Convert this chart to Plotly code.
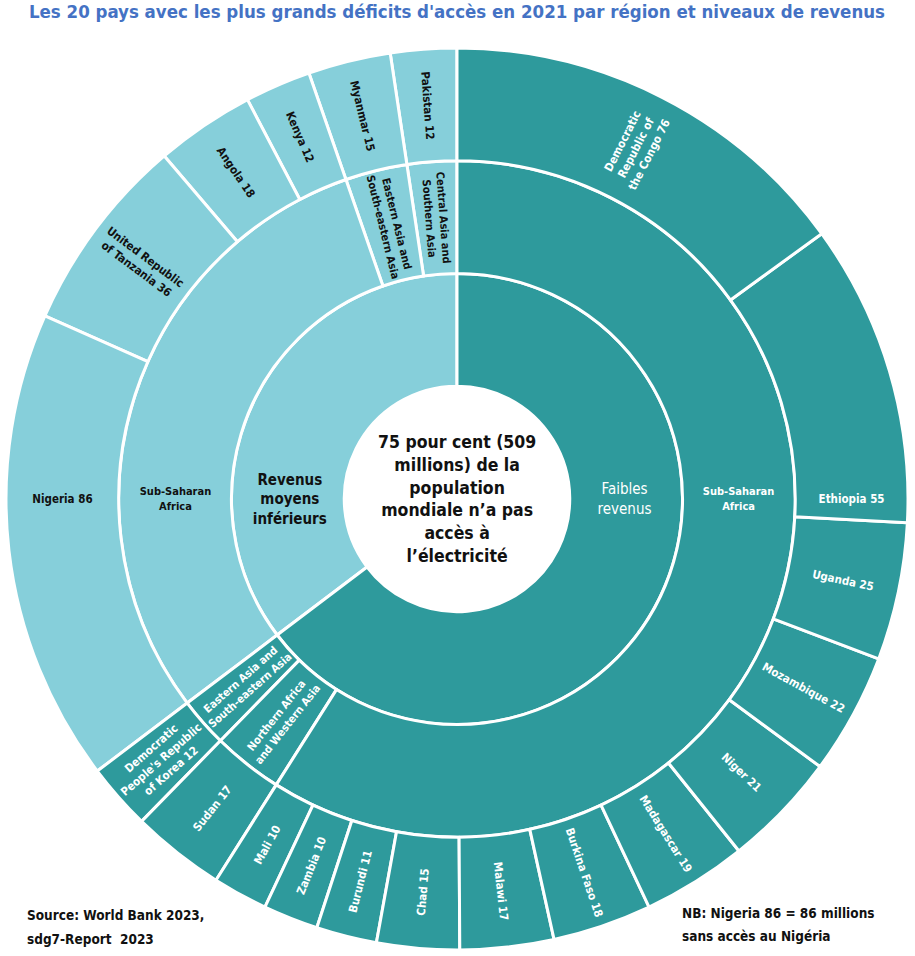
import plotly.graph_objects as go

# Order is listed counterclockwise from 12 o'clock (Plotly sunburst direction)
income_groups = ["Revenus moyens inférieurs", "Faibles revenus"]
income_labels = ["<b>Revenus<br>moyens<br>inférieurs</b>", "Faibles<br>revenus"]

lmi_regions = ["Central Asia and Southern Asia", "Eastern Asia and South-eastern Asia", "Sub-Saharan Africa"]
lmi_region_labels = ["Central Asia and<br>Southern Asia", "Eastern Asia and<br>South-eastern Asia", "Sub-Saharan<br>Africa"]
lmi_country_region = ["Central Asia and Southern Asia", "Eastern Asia and South-eastern Asia",
                      "Sub-Saharan Africa", "Sub-Saharan Africa", "Sub-Saharan Africa", "Sub-Saharan Africa"]
lmi_countries = ["Pakistan", "Myanmar", "Kenya", "Angola", "United Republic of Tanzania", "Nigeria"]
lmi_country_labels = ["Pakistan 12", "Myanmar 15", "Kenya 12", "Angola 18",
                      "United Republic<br>of Tanzania 36", "Nigeria 86"]
lmi_values = [12, 15, 12, 18, 36, 86]

low_regions = ["Eastern Asia and South-eastern Asia", "Northern Africa and Western Asia", "Sub-Saharan Africa"]
low_region_labels = ["Eastern Asia and<br>South-eastern Asia", "Northern Africa<br>and Western Asia", "Sub-Saharan<br>Africa"]
low_country_region = ["Eastern Asia and South-eastern Asia", "Northern Africa and Western Asia"] + ["Sub-Saharan Africa"] * 12
low_countries = ["Democratic People's Republic of Korea", "Sudan", "Mali", "Zambia", "Burundi", "Chad",
                 "Malawi", "Burkina Faso", "Madagascar", "Niger", "Mozambique", "Uganda", "Ethiopia",
                 "Democratic Republic of the Congo"]
low_country_labels = ["Democratic<br>People's Republic<br>of Korea 12", "Sudan 17", "Mali 10", "Zambia 10",
                      "Burundi 11", "Chad 15", "Malawi 17", "Burkina Faso 18", "Madagascar 19", "Niger 21",
                      "Mozambique 22", "Uganda 25", "Ethiopia 55", "Democratic<br>Republic of<br>the Congo 76"]
low_values = [12, 17, 10, 10, 11, 15, 17, 18, 19, 21, 22, 25, 55, 76]

group_colors = {"Faibles revenus": "#2e9a9c", "Revenus moyens inférieurs": "#86cfda"}
group_text = {"Faibles revenus": "#ffffff", "Revenus moyens inférieurs": "#111111"}
center_text = ("75 pour cent (509<br>millions) de la<br>population<br>"
               "mondiale n’a pas<br>accès à<br>l’électricité")

ids, labels, parents, values, colors, texts, tcolors, tsizes = [], [], [], [], [], [], [], []
total = sum(lmi_values) + sum(low_values)
ids.append("root"); labels.append("root"); parents.append(""); values.append(total)
colors.append("#ffffff"); texts.append(""); tcolors.append("#000000"); tsizes.append(10)

spec = [
    (lmi_regions, lmi_region_labels, lmi_country_region, lmi_countries, lmi_country_labels, lmi_values),
    (low_regions, low_region_labels, low_country_region, low_countries, low_country_labels, low_values),
]
for grp, glabel, (regs, reglabs, creg, ctry, clabs, vals) in zip(income_groups, income_labels, spec):
    ids.append(grp); labels.append(grp); parents.append("root"); values.append(sum(vals))
    colors.append(group_colors[grp]); texts.append(glabel); tcolors.append(group_text[grp]); tsizes.append(15)
    for r, rl in zip(regs, reglabs):
        rid = grp + "/" + r
        ids.append(rid); labels.append(r); parents.append(grp)
        values.append(sum(v for rr, v in zip(creg, vals) if rr == r))
        colors.append(group_colors[grp]); texts.append(f"<b>{rl}</b>"); tcolors.append(group_text[grp]); tsizes.append(11)
        for rr, c, cl, v in zip(creg, ctry, clabs, vals):
            if rr == r:
                ids.append(rid + "/" + c); labels.append(c); parents.append(rid); values.append(v)
                colors.append(group_colors[grp]); texts.append(f"<b>{cl}</b>"); tcolors.append(group_text[grp]); tsizes.append(11.5)

fig = go.Figure(go.Sunburst(
    ids=ids, labels=labels, parents=parents, values=values,
    branchvalues="total", sort=False, rotation=90,
    text=texts, texttemplate="%{text}",
    marker=dict(colors=colors, line=dict(color="#ffffff", width=3)),
    leaf=dict(opacity=1),
    insidetextorientation="radial",
    insidetextfont=dict(color=tcolors, size=tsizes, family="DejaVu Sans Condensed"),
    hoverinfo="label+value",
))

fig.update_layout(
    width=915, height=956,
    margin=dict(l=6, r=7, t=48, b=6),
    paper_bgcolor="#ffffff",
    title=dict(text="<b>Les 20 pays avec les plus grands déficits d'accès en 2021 par région et niveaux de revenus</b>",
               x=0.5, xref="paper", y=1 - 5 / 956, xanchor="center", yanchor="top",
               font=dict(family="DejaVu Sans Condensed", size=18.5, color="#4472c4")),
    annotations=[
        dict(text="<b>" + center_text + "</b>", x=0.5, y=0.5, xref="paper", yref="paper",
             showarrow=False, font=dict(family="DejaVu Sans Condensed", size=17.5, color="#111111")),
        dict(text="<b>Source: World Bank 2023,</b>", x=0.021, y=35 / 902, xref="paper", yref="paper",
             xanchor="left", yanchor="middle", align="left", showarrow=False,
             font=dict(family="DejaVu Sans Condensed", size=13.5, color="#111111")),
        dict(text="<b>sdg7-Report  2023</b>", x=0.021, y=11 / 902, xref="paper", yref="paper",
             xanchor="left", yanchor="middle", align="left", showarrow=False,
             font=dict(family="DejaVu Sans Condensed", size=13.5, color="#111111")),
        dict(text="<b>NB: Nigeria 86 = 86 millions</b>", x=0.747, y=37 / 902, xref="paper", yref="paper",
             xanchor="left", yanchor="middle", align="left", showarrow=False,
             font=dict(family="DejaVu Sans Condensed", size=13.5, color="#111111")),
        dict(text="<b>sans accès au Nigéria</b>", x=0.747, y=14 / 902, xref="paper", yref="paper",
             xanchor="left", yanchor="middle", align="left", showarrow=False,
             font=dict(family="DejaVu Sans Condensed", size=13.5, color="#111111")),
    ],
)
fig.write_html("out.html", config={"displayModeBar": False},
               post_script="document.body.style.margin='0px';")
